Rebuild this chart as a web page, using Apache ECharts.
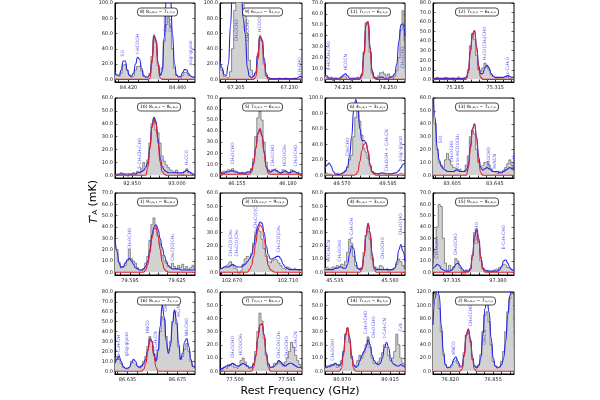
<!DOCTYPE html>
<html>
<head>
<meta charset="utf-8">
<script src="https://cdn.jsdelivr.net/npm/echarts@6/dist/echarts.min.js"></script>
<style>
  html, body { margin: 0; background: #fff; }
  #chart { width: 600px; height: 400px; }
</style>
</head>
<body>
<div id="chart"></div>
<script>
// 16 panels, row by row. Each spectrum has 40 channels spread over the panel's frequency window.
const freqRange = [
  [84.409, 84.474], [67.1975, 67.236], [74.201, 74.263], [75.2685, 75.329],
  [92.931, 93.020], [46.1467, 46.1869], [49.5608, 49.6042], [83.587, 83.663],
  [79.5854, 79.6365], [102.6614, 102.720], [45.5305, 45.5668], [97.3164, 97.3957],
  [86.625, 86.689], [77.487, 77.558], [80.854, 80.929], [76.806, 76.872]
]
const freqTicks = [
  [84.420, 84.460], [67.205, 67.230], [74.215, 74.250], [75.285, 75.315],
  [92.950, 93.000], [46.155, 46.180], [49.570, 49.595], [83.605, 83.645],
  [79.595, 79.625], [102.670, 102.710], [45.535, 45.560], [97.335, 97.380],
  [86.635, 86.675], [77.500, 77.545], [80.870, 80.915], [76.820, 76.855]
]
const tempMax = [100, 100, 70, 80, 60, 70, 100, 60, 70, 60, 60, 70, 80, 60, 60, 120]
const tempStep = [20, 20, 10, 10, 10, 10, 20, 10, 10, 10, 10, 10, 10, 10, 10, 20]

const panelTitles = [
  '8) 8₀,₈,₀ − 7₁,₇,₀', '9) 6₀,₆,₀ − 5₁,₅,₀', '11) 7₁,₇,₁ − 6₁,₆,₁', '12) 7₂,₅,₀ − 6₂,₄,₀',
  '10) 8₁,₈,₁ − 8₀,₈,₀', '5) 7₄,₄,₀ − 6₃,₃,₀', '6) 4₁,₃,₁ − 3₁,₂,₁', '13) 8₁,₈,₁ − 7₁,₇,₀',
  '1) 9₀,₉,₁ − 8₀,₈,₁', '3) 10₁,₁₀,₁ − 9₀,₉,₁', '4) 4₁,₄,₀ − 3₁,₃,₀', '15) 9₀,₉,₀ − 8₁,₈,₀',
  '16) 8₁,₈,₀ − 7₁,₇,₀', '7) 7₂,₆,₁ − 6₂,₅,₁', '14) 7₁,₆,₁ − 6₁,₅,₁', '2) 8₀,₈,₀ − 7₀,₇,₀'
]

// observed spectrum (grey histogram), mK
const observed = [
  [8,5,4,8,19,20,12,6,3,5, 12,17,18,11,4,2,4,8,30,55, 48,18,5,15,50,72,82,70,40,15, 5,3,2,5,9,8,5,3,2,4],
  [22,12,4,2,3,10,40,90,120,130, 125,110,85,60,25,12,5,8,30,55, 50,20,5,2,0,1,0,1,2,0, 1,2,0,1,0,2,1,0,2,4],
  [4,2,0,2,-1,1,0,-1,2,3, 2,0,1,-1,1,0,2,1,4,25, 52,50,25,6,2,1,3,6,7,5, 3,5,2,1,3,8,20,45,63,35],
  [1,-1,2,0,1,-1,2,1,0,2, -1,1,3,0,1,2,3,10,35,48, 42,25,10,8,12,17,14,10,5,3, 1,2,0,1,3,2,4,1,2,3],
  [-1,1,0,2,1,0,-1,1,0,2, 1,3,2,5,10,7,12,25,40,44, 35,33,25,15,11,8,6,4,3,2, 4,1,2,0,3,5,2,1,0,1],
  [2,3,4,3,5,4,6,4,3,2, 3,2,1,3,2,6,15,35,52,58, 50,30,12,5,3,5,6,4,2,3, 5,4,2,3,5,3,2,3,1,2],
  [2,3,1,2,0,1,3,2,1,4, 6,10,20,26,50,75,88,70,52,35, 30,22,12,5,3,2,1,3,2,1, 0,2,1,3,2,1,2,3,1,2],
  [62,40,20,10,8,6,12,17,12,8, 6,5,4,5,3,4,8,15,30,35, 32,20,10,7,8,10,11,8,5,3, 2,1,3,2,4,6,9,12,8,5],
  [32,20,9,5,4,6,10,20,12,10, 8,4,2,1,3,8,14,28,42,48, 40,32,25,15,10,8,5,4,8,5, 3,6,4,7,3,5,2,4,6,3],
  [2,3,4,5,6,8,5,3,2,-2, 1,6,10,12,11,14,22,30,33,31, 25,18,12,8,7,9,10,9,7,5, 3,2,4,3,2,3,2,1,2,1],
  [3,4,3,2,4,3,5,4,6,5, 8,15,25,22,12,5,3,2,4,15, 28,31,25,10,4,3,2,5,4,2, 3,1,2,3,4,6,10,8,5,3],
  [5,20,40,60,58,30,8,2,6,2, 5,12,10,4,1,-2,2,1,3,15, 35,37,27,10,3,1,2,0,1,2, 3,2,4,5,7,6,4,3,2,1],
  [10,15,12,8,4,2,3,5,10,8, 6,4,3,6,10,15,25,35,30,18, 12,22,40,55,52,35,22,30,50,60, 48,25,12,15,22,28,20,10,5,4],
  [-2,1,3,2,5,4,6,3,2,4, 8,10,7,4,2,3,6,15,30,44, 38,25,12,5,3,4,6,5,8,6, 4,7,10,15,22,18,12,8,5,3],
  [2,4,3,5,4,6,3,5,8,15, 28,30,22,10,4,5,8,12,10,14, 20,26,18,10,6,5,7,10,14,20, 18,12,8,10,15,28,20,10,6,4],
  [100,118,115,95,60,25,10,6,5,8, 15,18,12,6,8,28,55,60,45,18, 8,6,10,25,60,85,90,75,40,15, 8,6,8,15,30,60,90,110,118,115]
]

// full model of all species (blue)
const fullModel = [
  [10,6,5,12,24,24,12,5,4,8, 20,29,26,14,5,3,3,6,25,58, 52,22,6,10,55,105,120,110,60,20, 6,3,4,9,13,12,7,4,3,3],
  [25,15,6,5,20,70,130,160,160,150, 130,80,60,15,4,2,4,10,35,57, 52,28,8,2,1,1,1,1,1,1, 1,1,1,1,1,1,1,2,4,3],
  [5,3,1,1,1,1,1,1,2,4, 5,3,1,1,1,1,1,1,5,25, 50,53,30,8,2,1,1,2,2,1, 1,1,2,3,5,14,35,50,51,40],
  [1,1,1,1,1,1,1,1,1,1, 1,1,1,1,1,1,2,8,30,48, 51,35,14,6,6,12,15,12,6,3, 2,2,2,2,2,3,4,3,2,2],
  [0,0,1,1,1,1,1,1,1,1, 1,2,2,3,4,6,10,22,38,45, 42,28,14,7,4,3,2,2,2,2, 2,2,2,2,3,4,3,2,1,1],
  [1,2,2,3,3,4,4,3,3,2, 2,2,2,3,3,5,12,25,38,42, 36,22,8,4,3,4,5,4,3,2, 3,4,3,2,3,4,3,2,1,1],
  [8,13,16,12,5,2,1,1,2,3, 6,12,25,50,85,98,88,60,45,45, 42,30,14,5,2,2,2,3,3,3, 2,2,2,2,3,4,6,10,14,16],
  [75,45,22,12,7,5,4,3,3,3, 3,4,4,3,3,3,4,8,22,36, 40,30,14,6,4,5,6,5,4,3, 3,3,2,2,3,4,5,6,5,4],
  [30,18,8,4,5,8,11,12,10,7, 4,3,2,2,3,5,10,20,33,40, 42,38,30,22,15,10,6,4,3,3, 3,3,2,2,2,2,2,2,2,2],
  [3,3,4,4,4,5,6,5,4,4, 4,5,6,8,10,13,20,28,35,38, 37,30,20,13,10,10,11,12,12,10, 6,4,3,2,2,2,2,2,2,2],
  [2,2,2,2,2,3,3,4,4,3, 3,6,14,20,18,8,3,2,3,12, 28,37,30,14,4,2,2,2,2,2, 2,2,2,2,3,8,17,21,16,8],
  [3,5,7,6,3,2,1,1,1,2, 4,7,8,6,3,1,1,1,3,14, 32,38,30,14,4,2,1,1,1,1, 1,1,2,5,10,11,8,4,2,1],
  [8,12,15,10,5,3,3,4,8,12, 10,5,4,5,8,12,22,33,30,18, 10,20,45,67,55,30,18,25,48,62, 52,28,12,18,30,33,25,12,5,3],
  [2,2,3,4,4,5,6,5,4,4, 5,6,5,4,3,3,5,12,25,35, 36,28,14,6,3,3,4,6,8,7, 5,4,5,6,6,5,4,3,3,2],
  [3,3,4,4,5,6,5,4,6,14, 28,33,26,12,5,3,4,8,12,15, 18,24,20,12,8,6,5,6,10,18, 22,18,10,6,5,4,4,5,4,3],
  [70,110,130,115,70,30,10,5,6,10, 18,22,15,8,8,25,55,64,50,22, 8,5,8,20,55,95,108,90,50,20, 8,5,6,10,20,45,85,115,130,130]
]

// model of the fitted species alone (red)
const speciesModel = [
  [0,0,0,0,0,0,0,0,0,0, 0,0,0,0,0,0,0,1,20,58, 50,20,2,0,0,0,0,0,0,0, 0,0,0,0,0,0,0,0,0,0],
  [0,0,0,0,0,0,0,0,0,0, 0,0,0,0,0,0,0,3,25,57, 50,22,4,0,0,0,0,0,0,0, 0,0,0,0,0,0,0,0,0,0],
  [0,0,0,0,0,0,0,0,0,0, 0,0,0,0,0,0,0,0,3,22, 50,53,28,6,1,0,0,0,0,0, 0,0,0,0,0,0,0,0,0,0],
  [0,0,0,0,0,0,0,0,0,0, 0,0,0,0,0,0,0,7,28,47, 51,33,10,2,0,0,0,0,0,0, 0,0,0,0,0,0,0,0,0,0],
  [0,0,0,0,0,0,0,0,0,0, 0,0,0,0,0,0,6,20,37,43, 40,25,10,3,1,0,0,0,0,0, 0,0,0,0,0,0,0,0,0,0],
  [1,1,1,1,1,1,1,1,1,1, 1,1,1,1,1,3,10,24,37,42, 35,20,7,2,1,1,1,1,1,1, 1,1,1,1,1,1,1,1,1,1],
  [0,0,0,0,0,0,0,0,0,0, 0,0,0,0,0,1,5,18,32,40, 42,32,15,4,1,0,0,0,0,0, 0,0,0,0,0,0,0,0,0,0],
  [0,0,0,0,0,0,0,0,0,0, 0,0,0,0,0,0,0,5,20,36, 40,28,10,2,0,0,0,0,0,0, 0,0,0,0,0,0,0,0,0,0],
  [0,0,0,0,0,0,0,0,0,0, 0,0,0,0,0,2,7,17,30,38, 39,32,20,9,3,1,0,0,0,0, 0,0,0,0,0,0,0,0,0,0],
  [0,0,0,0,0,0,0,0,0,0, 0,0,0,0,2,5,12,22,32,36, 34,25,13,5,2,1,0,0,0,0, 0,0,0,0,0,0,0,0,0,0],
  [0,0,0,0,0,0,0,0,0,0, 0,0,0,0,0,0,0,0,2,12, 28,37,30,12,2,0,0,0,0,0, 0,0,0,0,0,0,0,0,0,0],
  [0,0,0,0,0,0,0,0,0,0, 0,0,0,0,0,0,0,0,2,13, 31,38,29,12,3,0,0,0,0,0, 0,0,0,0,0,0,0,0,0,0],
  [0,0,0,0,0,0,0,0,0,0, 0,0,0,0,2,8,20,33,30,15, 4,0,0,0,0,0,0,0,0,0, 0,0,0,0,0,0,0,0,0,0],
  [0,0,0,0,0,0,0,0,0,0, 0,0,0,0,0,0,3,11,25,35, 36,27,12,3,0,0,0,0,0,0, 0,0,0,0,0,0,0,0,0,0],
  [0,0,0,0,0,0,0,0,2,12, 27,33,25,10,2,0,0,0,0,0, 0,0,0,0,0,0,0,0,0,0, 0,0,0,0,0,0,0,0,0,0],
  [0,0,0,0,0,0,0,0,0,0, 0,0,0,0,3,22,54,64,48,18, 3,0,0,0,0,0,0,0,0,0, 0,0,0,0,0,0,0,0,0,0]
]

// line identifications: [channel, mK where the label starts, name]
const lineIds = [
  [[4, 30, 'SO'], [11, 33, 't-HCOOH'], [25, 62, 'CH₃OCHO'], [27, 62, 'CH₃OCHO'], [37, 18, "aGg'-glycol"]],
  [[8, 50, 'CH₃OCHO'], [13, 50, 'CH₃OCHO'], [19, 62, 'HCOOCH₃'], [38, 5, 'CH₃CHO']],
  [[2, 8, 'a-HOCH₂CHO'], [10, 8, 'HCOCN'], [38, 10, 'CH₃OCHO']],
  [[25, 20, 'H₂CO(CH₃)CHO'], [36, 5, 'c-C₃H₂O']],
  [[12, 5, 'E-CH₃CH₂CHO'], [35, 8, 'H₂CCO']],
  [[6, 10, 'CH₃OCHO'], [25, 8, 'CH₃OCHO'], [31, 8, 'HCOOCH₃'], [36, 8, 'CH₃OCHO']],
  [[11, 25, 'CH₃CHO'], [30, 5, 'CH₂DOH + C₂H₅CN'], [37, 18, "aGg'-glycol"]],
  [[4, 25, 'SiO'], [9, 10, 'CH₃OCHO'], [12, 5, 'trans-HCOOCH₃'], [27, 5, 'CH₃OCHO'], [30, 5, 'H₂NCN'], [39, 5, 'E-C₂H₅']],
  [[7, 20, 'CH₃OCHO'], [28, 10, 'CH₃C(O)CH₃']],
  [[5, 12, 'CH₃C(O)CH₃'], [8, 12, 'CH₃C(O)CH₃'], [17, 30, 'a-CH₃C(O)CH₃'], [28, 15, 'CH₃C(O)CH₃']],
  [[2, 8, 'HOCH₂CN'], [7, 8, 'CH₃OCHO'], [13, 25, 's-C₂H₅OH'], [28, 10, 'CH₃OCHO'], [37, 28, 'CH₃OCHO']],
  [[2, 12, 'CH₃OCHO'], [11, 15, 'CH₃OCHO'], [21, 25, 'CH₃OCHO'], [34, 20, 'E-C₂H₅CHO']],
  [[2, 15, 'a-C₂H₅OH'], [6, 15, 'gGg-glycol'], [16, 38, 'HNCO'], [20, 20, 't-C₂H₅CN'], [25, 60, 'CH₃CN'], [31, 55, 'HC₃N'], [35, 35, 'NH₂CHO']],
  [[6, 10, 'CH₃OCHO'], [10, 12, 'HCOOCH₃'], [28, 10, 'CH₃COOCH₃'], [32, 10, 'CH₃OCHO'], [36, 15, 't-C₂H₅CN']],
  [[4, 8, 'CH₃OCHO'], [20, 28, 'C₂H₅OCHO'], [24, 25, 'CH₃OCHO'], [29, 25, 't-C₂H₅CN'], [37, 30, 'C₃N']],
  [[10, 25, 'HNCO'], [18, 68, 'CH₃OCHO'], [25, 40, 'CH₃CN']]
]

const colLeft = [115, 220, 325, 433]
const colWidth = [80, 82, 80, 81]
const rowTop = [3, 98, 193, 292]
const rowHeight = [79, 80, 82, 82]

const chart = echarts.init(document.getElementById('chart'))

const grid = []
const xAxis = []
const yAxis = []
const series = []
const title = []

const tickStyle = { color: '#000', width: 0.6 }

for (let p = 0; p < 16; p++) {
  const r = Math.floor(p / 4)
  const c = p % 4
  const [f0, f1] = freqRange[p]
  const freqs = observed[p].map((_, i) => f0 + (i * (f1 - f0)) / (observed[p].length - 1))

  // minor ticks along the frequency axis
  const [t0, t1] = freqTicks[p]
  const minor = (t1 - t0) / 5
  const xTickVals = []
  for (let v = t0; v >= f0; v -= minor) xTickVals.push(v)
  for (let v = t0 + minor; v <= f1; v += minor) xTickVals.push(v)

  const yTickVals = []
  for (let v = 0; v <= tempMax[p] + 1e-6; v += tempStep[p]) yTickVals.push(v)
  const yMin = -tempMax[p] * 0.035

  grid.push({
    left: colLeft[c], top: rowTop[r], width: colWidth[c], height: rowHeight[r],
    show: true, borderColor: '#000', borderWidth: 1, backgroundColor: '#fff'
  })

  xAxis.push({
    gridIndex: p, type: 'value', min: f0, max: f1, position: 'bottom',
    axisLine: { show: true, onZero: false, lineStyle: { color: '#000', width: 1 } },
    axisTick: { show: true, inside: true, length: 2, customValues: xTickVals, lineStyle: tickStyle },
    axisLabel: { customValues: freqTicks[p], formatter: (v) => v.toFixed(3), fontSize: 5, color: '#222', margin: 3 },
    splitLine: { show: false }
  })
  xAxis.push({
    gridIndex: p, type: 'value', min: f0, max: f1, position: 'top',
    axisLine: { show: false },
    axisTick: { show: true, inside: true, length: 2, customValues: xTickVals, lineStyle: tickStyle },
    axisLabel: { show: false },
    splitLine: { show: false }
  })
  yAxis.push({
    gridIndex: p, type: 'value', min: yMin, max: tempMax[p], position: 'left',
    axisLine: { show: true, onZero: false, lineStyle: { color: '#000', width: 1 } },
    axisTick: { show: true, inside: true, length: 2.5, customValues: yTickVals, lineStyle: tickStyle },
    axisLabel: { customValues: yTickVals, formatter: (v) => v.toFixed(1), fontSize: 5, color: '#222', margin: 2 },
    splitLine: { show: false }
  })
  yAxis.push({
    gridIndex: p, type: 'value', min: yMin, max: tempMax[p], position: 'right',
    axisLine: { show: false },
    axisTick: { show: true, inside: true, length: 2.5, customValues: yTickVals, lineStyle: tickStyle },
    axisLabel: { show: false },
    splitLine: { show: false }
  })

  const ax = { xAxisIndex: 2 * p, yAxisIndex: 2 * p }

  series.push({
    ...ax, type: 'line', step: 'middle', symbol: 'none', silent: true,
    data: freqs.map((f, i) => [f, observed[p][i]]),
    lineStyle: { color: '#4a4a4a', width: 0.6 },
    areaStyle: { color: '#d2d2d2', opacity: 1 },
    z: 2
  })
  series.push({
    ...ax, type: 'line', smooth: 0.5, smoothMonotone: 'x', symbol: 'none', silent: true,
    data: freqs.map((f, i) => [f, fullModel[p][i]]),
    lineStyle: { color: '#2424e6', width: 1.1 },
    z: 3
  })
  series.push({
    ...ax, type: 'line', smooth: 0.5, smoothMonotone: 'x', symbol: 'none', silent: true,
    data: freqs.map((f, i) => [f, speciesModel[p][i]]),
    lineStyle: { color: '#e3212b', width: 1.1 },
    z: 4
  })
  series.push({
    ...ax, type: 'scatter', symbolSize: 0, silent: true,
    data: lineIds[p].map(([i, t, name]) => ({ value: [freqs[i], t], name })),
    label: {
      show: true, formatter: '{b}', rotate: 90, position: 'inside',
      align: 'left', verticalAlign: 'middle', color: '#2a2ae8', fontSize: 4.5
    },
    z: 5
  })

  title.push({
    text: panelTitles[p],
    left: colLeft[c] + 22, top: rowTop[r] + 5,
    textStyle: { fontSize: 4.5, fontWeight: 'normal', color: '#000' },
    borderColor: '#000', borderWidth: 0.7, borderRadius: 3,
    padding: [1.5, 3], backgroundColor: '#fff'
  })
}

chart.setOption({
  animation: false,
  backgroundColor: '#fff',
  textStyle: { fontFamily: 'DejaVu Sans' },
  title,
  grid,
  xAxis,
  yAxis,
  series,
  graphic: [
    {
      type: 'text', left: 88, top: 180, rotation: Math.PI / 2,
      style: {
        text: '{t|T}{p|*}{s|A} (mK)',
        fontSize: 11, fill: '#000', fontFamily: 'DejaVu Sans',
        rich: {
          t: { fontSize: 11, fontStyle: 'italic' },
          p: { fontSize: 7, verticalAlign: 'top' },
          s: { fontSize: 7, verticalAlign: 'bottom' }
        }
      }
    },
    {
      type: 'text', left: 'center', top: 386,
      style: { text: 'Rest Frequency (GHz)', fontSize: 11, fill: '#000', fontFamily: 'DejaVu Sans' }
    }
  ]
})
</script>
</body>
</html>
